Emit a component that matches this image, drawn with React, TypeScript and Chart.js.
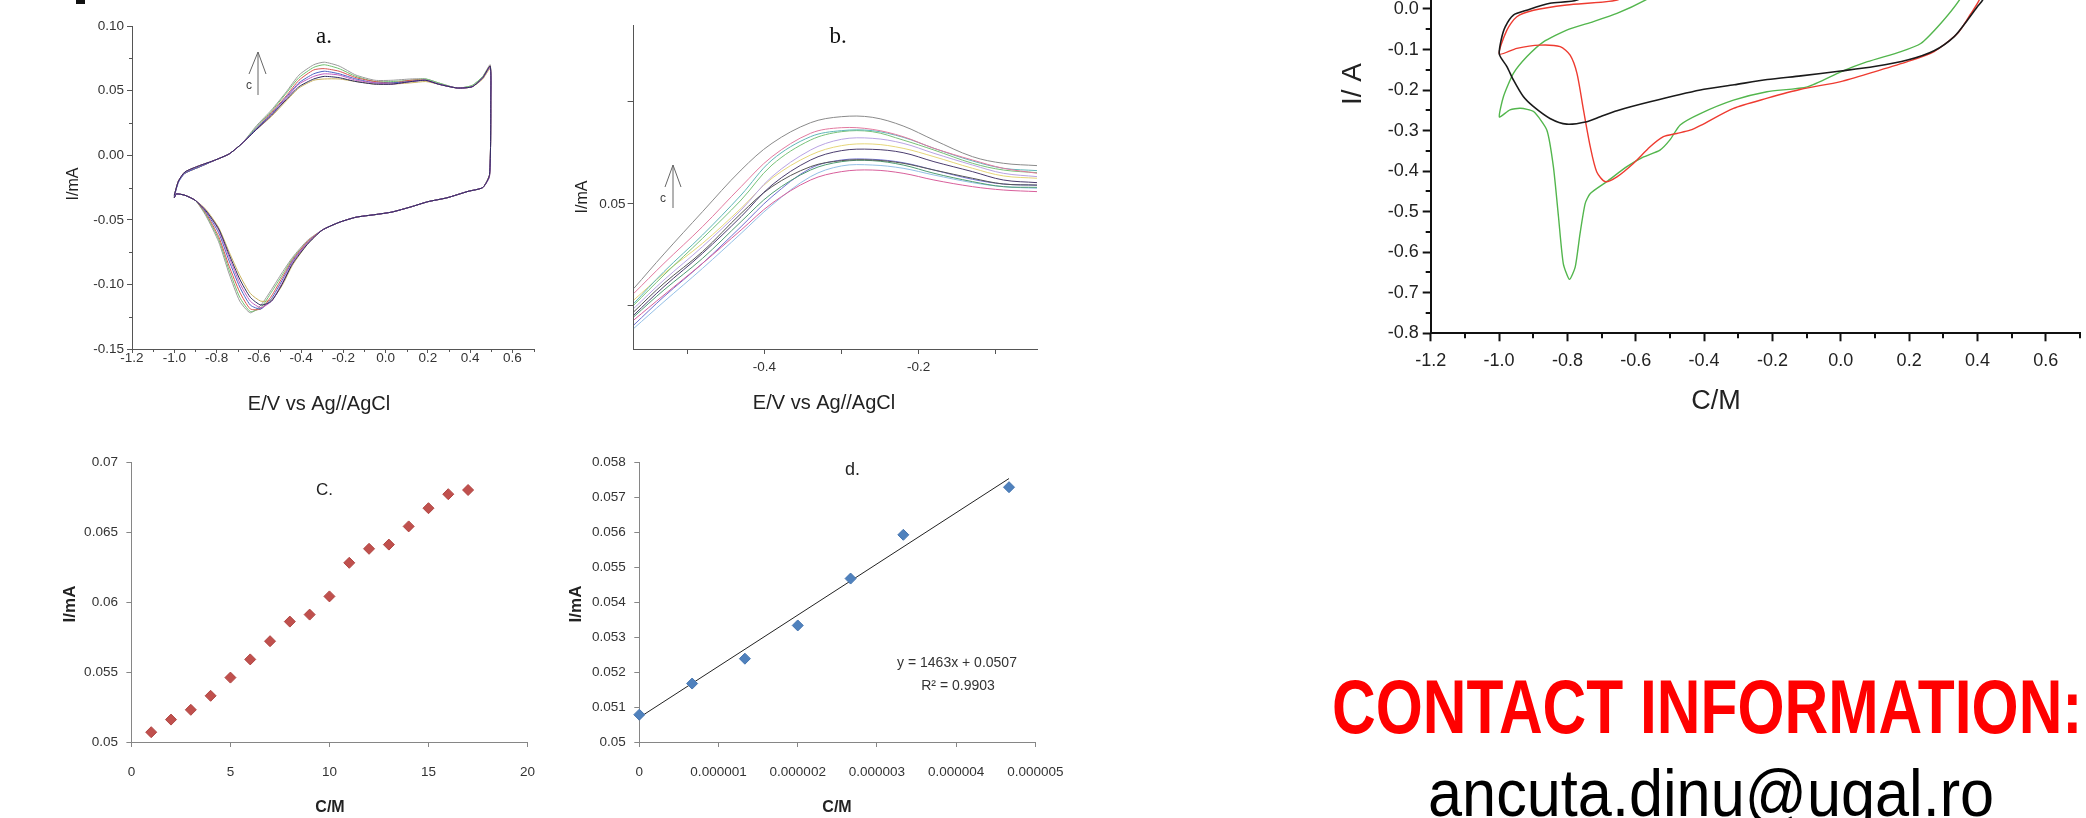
import React, { useEffect, useRef } from 'react';
import { Chart, registerables } from 'chart.js';

Chart.register(...registerables);

const SANS = "'Liberation Sans', Arial, sans-serif";
const SERIF = "'Liberation Serif', 'Times New Roman', serif";

// ---------- Panel a: cyclic voltammograms (E / V, I / mA) ----------
const A_E = [
  -1.0, -0.98, -0.95, -0.88, -0.81, -0.74, -0.68, -0.61, -0.54, -0.47,
  -0.41, -0.34, -0.29, -0.22, -0.14, -0.05, 0.03, 0.12, 0.19, 0.25,
  0.34, 0.41, 0.46, 0.495, 0.498, 0.492,
  0.46, 0.39, 0.29, 0.2, 0.12, 0.03, -0.05, -0.14, -0.22, -0.3,
  -0.37, -0.44, -0.49, -0.54, -0.59, -0.64, -0.69, -0.74, -0.79, -0.85,
  -0.9, -0.95, -0.99, -1.0,
];
const A1 = [
  -0.031, -0.02, -0.014, -0.009, -0.004, 0.001, 0.009, 0.023, 0.035, 0.049,
  0.062, 0.07, 0.072, 0.069, 0.062, 0.058, 0.058, 0.059, 0.059, 0.056,
  0.052, 0.054, 0.061, 0.07, 0.045, -0.015,
  -0.025, -0.028, -0.033, -0.036, -0.04, -0.044, -0.046, -0.048, -0.052, -0.058,
  -0.066, -0.079, -0.091, -0.104, -0.116, -0.122, -0.113, -0.092, -0.067, -0.047,
  -0.035, -0.031, -0.03, -0.033,
];
const A2 = [
  -0.031, -0.02, -0.014, -0.009, -0.004, 0.001, 0.009, 0.022, 0.034, 0.048,
  0.06, 0.068, 0.07, 0.067, 0.061, 0.057, 0.057, 0.058, 0.059, 0.056,
  0.052, 0.054, 0.061, 0.069, 0.045, -0.015,
  -0.025, -0.028, -0.033, -0.036, -0.04, -0.044, -0.046, -0.048, -0.052, -0.058,
  -0.067, -0.08, -0.093, -0.106, -0.118, -0.121, -0.11, -0.089, -0.065, -0.046,
  -0.035, -0.031, -0.03, -0.033,
];
const A3 = [
  -0.032, -0.02, -0.014, -0.009, -0.004, 0.001, 0.009, 0.021, 0.033, 0.046,
  0.058, 0.066, 0.067, 0.065, 0.06, 0.057, 0.056, 0.058, 0.058, 0.055,
  0.052, 0.053, 0.06, 0.069, 0.045, -0.015,
  -0.025, -0.028, -0.033, -0.036, -0.04, -0.044, -0.046, -0.048, -0.052, -0.058,
  -0.067, -0.081, -0.095, -0.109, -0.119, -0.119, -0.106, -0.086, -0.063, -0.045,
  -0.035, -0.031, -0.03, -0.033,
];
const A4 = [
  -0.032, -0.021, -0.014, -0.009, -0.004, 0.001, 0.009, 0.021, 0.032, 0.045,
  0.056, 0.063, 0.065, 0.063, 0.059, 0.056, 0.056, 0.057, 0.058, 0.055,
  0.052, 0.053, 0.06, 0.068, 0.044, -0.016,
  -0.025, -0.028, -0.033, -0.036, -0.04, -0.044, -0.046, -0.048, -0.052, -0.058,
  -0.068, -0.082, -0.097, -0.111, -0.119, -0.116, -0.102, -0.082, -0.06, -0.044,
  -0.035, -0.031, -0.03, -0.033,
];
const A5 = [
  -0.031, -0.02, -0.013, -0.008, -0.004, 0.001, 0.009, 0.02, 0.031, 0.044,
  0.055, 0.061, 0.063, 0.062, 0.058, 0.056, 0.055, 0.057, 0.058, 0.055,
  0.052, 0.053, 0.06, 0.068, 0.044, -0.016,
  -0.025, -0.028, -0.033, -0.036, -0.04, -0.044, -0.046, -0.048, -0.052, -0.058,
  -0.068, -0.083, -0.099, -0.113, -0.118, -0.113, -0.099, -0.079, -0.058, -0.043,
  -0.035, -0.031, -0.03, -0.033,
];
const A6 = [
  -0.031, -0.02, -0.013, -0.008, -0.004, 0.001, 0.009, 0.02, 0.031, 0.043,
  0.053, 0.059, 0.061, 0.06, 0.057, 0.055, 0.055, 0.057, 0.058, 0.055,
  0.052, 0.053, 0.06, 0.069, 0.045, -0.015,
  -0.025, -0.028, -0.033, -0.036, -0.04, -0.044, -0.046, -0.048, -0.052, -0.058,
  -0.069, -0.084, -0.1, -0.113, -0.116, -0.11, -0.096, -0.077, -0.057, -0.043,
  -0.035, -0.031, -0.03, -0.033,
];
const A7 = [
  -0.031, -0.02, -0.013, -0.008, -0.004, 0.001, 0.009, 0.02, 0.03, 0.042,
  0.052, 0.058, 0.059, 0.059, 0.057, 0.055, 0.055, 0.056, 0.057, 0.055,
  0.052, 0.053, 0.059, 0.067, 0.044, -0.016,
  -0.025, -0.028, -0.033, -0.036, -0.04, -0.044, -0.046, -0.048, -0.052, -0.058,
  -0.069, -0.085, -0.101, -0.112, -0.113, -0.107, -0.093, -0.075, -0.056, -0.042,
  -0.035, -0.031, -0.03, -0.033,
];
const A_SERIES = [A6, A5, A4, A3, A2, A7, A1];
const A_COLORS = ['#2b2b5e', '#c05cc0', '#4a62c4', '#d9534f', '#6fbf6f', '#c9b25e', '#9a9a9a'];
const A_XTICKS = [-1.2, -1.0, -0.8, -0.6, -0.4, -0.2, 0.0, 0.2, 0.4, 0.6];
const A_YTICKS = [-0.15, -0.1, -0.05, 0.0, 0.05, 0.1];

// ---------- Panel b: zoom of the anodic peak ----------
const B_E = [-0.569, -0.53, -0.48, -0.43, -0.39, -0.34, -0.3, -0.26, -0.22, -0.18, -0.13, -0.09, -0.046];
const B1 = [0.04173, 0.0451, 0.04925, 0.05333, 0.05595, 0.05797, 0.05856, 0.0585, 0.05765, 0.05627, 0.05464, 0.05399, 0.05376];
const B2 = [0.04124, 0.04418, 0.04778, 0.0517, 0.05464, 0.05693, 0.05748, 0.05732, 0.0566, 0.05546, 0.05431, 0.0535, 0.05301];
const B3 = [0.04026, 0.04337, 0.04696, 0.05088, 0.05431, 0.0566, 0.05719, 0.05719, 0.05654, 0.05546, 0.05422, 0.0535, 0.05327];
const B4 = [0.0401, 0.04304, 0.04663, 0.05039, 0.05382, 0.05627, 0.05709, 0.05709, 0.05627, 0.05529, 0.05399, 0.05333, 0.05307];
const B5 = [0.03977, 0.04255, 0.04582, 0.04941, 0.05268, 0.05529, 0.05634, 0.05644, 0.05595, 0.05497, 0.05382, 0.05301, 0.05268];
const B6 = [0.04059, 0.0432, 0.04614, 0.04958, 0.05252, 0.0548, 0.05572, 0.05588, 0.05546, 0.05464, 0.0535, 0.05275, 0.05252];
const B7 = [0.03912, 0.0419, 0.04516, 0.04876, 0.05186, 0.05431, 0.05523, 0.05536, 0.05503, 0.05415, 0.05317, 0.05235, 0.05209];
const B8 = [0.03944, 0.04222, 0.04533, 0.04908, 0.0517, 0.05366, 0.05425, 0.05431, 0.05399, 0.05333, 0.05252, 0.05196, 0.05186];
const B9 = [0.03895, 0.04157, 0.04467, 0.04827, 0.05105, 0.05333, 0.05415, 0.05425, 0.05382, 0.05301, 0.05219, 0.0517, 0.05163];
const B10 = [0.03863, 0.04108, 0.04418, 0.04745, 0.05007, 0.05235, 0.05317, 0.05333, 0.05301, 0.05235, 0.0517, 0.05137, 0.05121];
const B11 = [0.03781, 0.04042, 0.04369, 0.04712, 0.0499, 0.05268, 0.05373, 0.05382, 0.0535, 0.05284, 0.05209, 0.0517, 0.05154];
const B12 = [0.03814, 0.04092, 0.04418, 0.04778, 0.05072, 0.0535, 0.05431, 0.05438, 0.05405, 0.05333, 0.05242, 0.05196, 0.05183];
const B_SERIES = [B7, B8, B1, B2, B3, B4, B5, B6, B9, B10, B11, B12];
const B_COLORS = ['#4b3d6e', '#555555', '#8a8a8a', '#e27aa0', '#5fb7b7', '#78c278', '#b9a3e3', '#e6d67a', '#4f9d72', '#d85f9b', '#93bfe6', '#7070d0'];
const B_XTICKS = [-0.5, -0.4, -0.3, -0.2, -0.1];
const B_XLABELLED = [-0.4, -0.2];
const B_YTICKS = [0.04, 0.05, 0.06];
const B_YLABELLED = [0.05];

// ---------- Panel c: calibration points ----------
const C_CONC = [1, 2, 3, 4, 5, 6, 7, 8, 9, 10, 11, 12, 13, 14, 15, 16, 17];
const C_CURR = [0.0507, 0.0516, 0.0523, 0.0533, 0.0546, 0.0559, 0.0572, 0.0586, 0.0591, 0.0604, 0.0628, 0.0638, 0.0641, 0.0654, 0.0667, 0.0677, 0.068];
const C_XTICKS = [0, 5, 10, 15, 20];
const C_YTICKS = [0.05, 0.055, 0.06, 0.065, 0.07];

// ---------- Panel d: linear range ----------
const D_CONC = [0, 0.667e-6, 1.333e-6, 2.0e-6, 2.667e-6, 3.333e-6, 4.667e-6];
const D_CURR = [0.05078, 0.05167, 0.05238, 0.05333, 0.05467, 0.05592, 0.05728];
const D_SLOPE = 1463;
const D_INTERCEPT = 0.0507;
const D_EQUATION = 'y = 1463x + 0.0507';
const D_R2 = 'R² = 0.9903';
const D_XTICKS = [0, 1e-6, 2e-6, 3e-6, 4e-6, 5e-6];
const D_YTICKS = [0.05, 0.051, 0.052, 0.053, 0.054, 0.055, 0.056, 0.057, 0.058];

// ---------- Right panel: three voltammograms ----------
const R_BLACK_E = [-0.7, -0.772, -0.851, -0.919, -0.958, -0.982, -0.994, -0.999, -0.977, -0.958, -0.929, -0.899, -0.851, -0.802, -0.743, -0.704, -0.655, -0.558, -0.411, -0.312, -0.215, -0.117, 0.0, 0.098, 0.195, 0.273, 0.332, 0.371, 0.4, 0.415, 0.43];
const R_BLACK_I = [0.06, 0.022, 0.014, -0.003, -0.015, -0.044, -0.077, -0.112, -0.142, -0.175, -0.216, -0.241, -0.27, -0.284, -0.278, -0.266, -0.251, -0.229, -0.2, -0.187, -0.174, -0.165, -0.153, -0.142, -0.126, -0.103, -0.068, -0.027, 0.006, 0.022, 0.06];
const R_RED_E = [-0.6, -0.655, -0.802, -0.899, -0.948, -0.977, -0.999, -0.948, -0.88, -0.821, -0.792, -0.772, -0.753, -0.733, -0.714, -0.689, -0.655, -0.607, -0.558, -0.519, -0.48, -0.441, -0.41, -0.314, -0.215, -0.117, 0.0, 0.098, 0.195, 0.273, 0.342, 0.381, 0.405, 0.42];
const R_RED_I = [0.05, 0.022, 0.01, -0.003, -0.019, -0.052, -0.111, -0.097, -0.089, -0.093, -0.114, -0.159, -0.249, -0.34, -0.402, -0.426, -0.414, -0.381, -0.34, -0.315, -0.307, -0.299, -0.287, -0.245, -0.22, -0.198, -0.179, -0.155, -0.13, -0.105, -0.06, -0.011, 0.022, 0.06];
const R_GREEN_E = [-0.5, -0.572, -0.655, -0.724, -0.802, -0.87, -0.919, -0.958, -0.987, -0.999, -0.968, -0.938, -0.899, -0.86, -0.841, -0.826, -0.812, -0.794, -0.777, -0.763, -0.748, -0.733, -0.685, -0.626, -0.577, -0.529, -0.5, -0.47, -0.411, -0.314, -0.216, -0.098, 0.0, 0.078, 0.176, 0.234, 0.293, 0.347, 0.37];
const R_GREEN_I = [0.06, 0.022, -0.011, -0.031, -0.052, -0.081, -0.118, -0.159, -0.216, -0.266, -0.249, -0.245, -0.253, -0.299, -0.389, -0.513, -0.628, -0.667, -0.636, -0.554, -0.48, -0.455, -0.426, -0.389, -0.365, -0.348, -0.323, -0.286, -0.258, -0.225, -0.204, -0.192, -0.155, -0.13, -0.105, -0.085, -0.035, 0.022, 0.06];
const R_XTICKS = [-1.2, -1.0, -0.8, -0.6, -0.4, -0.2, 0.0, 0.2, 0.4, 0.6];
const R_YTICKS = [-0.8, -0.7, -0.6, -0.5, -0.4, -0.3, -0.2, -0.1, 0.0];

const fmt = (v: number, d: number) => (Math.abs(v) < 1e-9 ? 0 : v).toFixed(d);
const pts = (xs: number[], ys: number[]) => xs.map((x, i) => ({ x, y: ys[i] }));
const inList = (v: number, list: number[]) => list.some((u) => Math.abs(u - v) < 1e-9);
const fixTicks = (list: number[]) => (s: any) => {
  s.ticks = list.map((value) => ({ value }));
};

type Txt = { t: string; x: number; y: number; font: string; color?: string; align?: CanvasTextAlign; base?: CanvasTextBaseline; rot?: boolean };
type Minor = { step: number; every: number; len: number; color: string; width: number };
type Spec = {
  L: number; T: number; W: number; H: number;
  area: [number, number, number, number];
  texts: Txt[];
  segs?: number[][];
  segColor?: string;
  minorX?: Minor;
  minorY?: Minor;
};

function overlay(spec: Spec) {
  return {
    id: 'overlay',
    afterDraw(chart: any) {
      const ctx: CanvasRenderingContext2D = chart.ctx;
      const ca = chart.chartArea;
      ctx.save();
      const drawMinor = (axis: 'x' | 'y', m?: Minor) => {
        if (!m) return;
        const sc = chart.scales[axis];
        const i0 = Math.ceil(sc.min / m.step - 1e-6);
        const i1 = Math.floor(sc.max / m.step + 1e-6);
        ctx.strokeStyle = m.color;
        ctx.lineWidth = m.width;
        ctx.beginPath();
        for (let i = i0; i <= i1; i++) {
          if (i % m.every === 0) continue;
          const p = Math.round(sc.getPixelForValue(i * m.step)) + (m.width % 2 ? 0.5 : 0);
          if (axis === 'x') {
            ctx.moveTo(p, ca.bottom);
            ctx.lineTo(p, ca.bottom + m.len);
          } else {
            ctx.moveTo(ca.left - m.len, p);
            ctx.lineTo(ca.left, p);
          }
        }
        ctx.stroke();
      };
      drawMinor('x', spec.minorX);
      drawMinor('y', spec.minorY);
      ctx.translate(-spec.L, -spec.T);
      if (spec.segs) {
        ctx.strokeStyle = spec.segColor || '#555';
        ctx.lineWidth = 1;
        ctx.beginPath();
        spec.segs.forEach((s) => {
          ctx.moveTo(s[0], s[1]);
          ctx.lineTo(s[2], s[3]);
        });
        ctx.stroke();
      }
      spec.texts.forEach((tx) => {
        ctx.save();
        ctx.font = tx.font;
        ctx.fillStyle = tx.color || '#222';
        ctx.textAlign = tx.align || 'center';
        ctx.textBaseline = tx.base || 'middle';
        ctx.translate(tx.x, tx.y);
        if (tx.rot) ctx.rotate(-Math.PI / 2);
        ctx.fillText(tx.t, 0, 0);
        ctx.restore();
      });
      ctx.restore();
    },
  };
}

function build(canvas: HTMLCanvasElement, spec: Spec, datasets: any[], xs: any, ys: any) {
  const [x0, y0, x1, y1] = spec.area;
  const xScale = {
    type: 'linear',
    ...xs,
    afterFit: (s: any) => {
      s.height = spec.T + spec.H - y1;
      s.paddingLeft = 0;
      s.paddingRight = 0;
    },
  };
  const yScale = {
    type: 'linear',
    ...ys,
    afterFit: (s: any) => {
      s.width = x0 - spec.L;
      s.paddingTop = 0;
      s.paddingBottom = 0;
    },
  };
  return new Chart(canvas, {
    type: 'scatter',
    data: { datasets },
    options: {
      animation: false,
      responsive: false,
      devicePixelRatio: 1,
      events: [],
      layout: { padding: { left: 0, top: y0 - spec.T, right: spec.L + spec.W - x1, bottom: 0 } },
      plugins: { legend: { display: false }, tooltip: { enabled: false } },
      scales: { x: xScale, y: yScale },
    } as any,
    plugins: [overlay(spec) as any],
  });
}

const lineDs = (xsArr: number[], ysArr: number[], color: string, width: number, tension: number) => ({
  data: pts(xsArr, ysArr),
  showLine: true,
  borderColor: color,
  backgroundColor: color,
  borderWidth: width,
  pointRadius: 0,
  tension,
  fill: false,
});

const axisStyle = (color: string, tickLen: number, width: number) => ({
  grid: { drawOnChartArea: false, drawTicks: true, tickLength: tickLen, tickColor: color, tickWidth: width },
  border: { display: true, color, width },
});

const SPEC_A: Spec = {
  L: 0, T: 0, W: 560, H: 420, area: [132, 26, 533.5, 349],
  texts: [
    { t: 'a.', x: 324, y: 43, font: `23px ${SERIF}`, color: '#111', base: 'alphabetic' },
    { t: 'E/V vs Ag//AgCl', x: 319, y: 404, font: `20px ${SANS}` },
    { t: 'I/mA', x: 74, y: 184, font: `16px ${SANS}`, rot: true },
    { t: 'c', x: 249, y: 86, font: `12px ${SANS}`, color: '#444' },
  ],
  segs: [[258, 95, 258, 52], [249, 74, 258, 52], [266, 74, 258, 52]],
  segColor: '#666',
  minorX: { step: 0.1, every: 2, len: 3, color: '#555', width: 1 },
  minorY: { step: 0.025, every: 2, len: 3, color: '#555', width: 1 },
};
const SPEC_B: Spec = {
  L: 560, T: 0, W: 500, H: 420, area: [633.6, 25, 1037, 349],
  texts: [
    { t: 'b.', x: 838, y: 43, font: `23px ${SERIF}`, color: '#111', base: 'alphabetic' },
    { t: 'E/V vs Ag//AgCl', x: 824, y: 403, font: `20px ${SANS}` },
    { t: 'I/mA', x: 583, y: 197, font: `16px ${SANS}`, rot: true },
    { t: 'c', x: 663, y: 199, font: `12px ${SANS}`, color: '#444' },
  ],
  segs: [[673, 208, 673, 165], [665, 187, 673, 165], [681, 187, 673, 165]],
  segColor: '#666',
};
const SPEC_C: Spec = {
  L: 0, T: 420, W: 560, H: 398, area: [131.4, 462, 527.5, 742],
  texts: [
    { t: 'C.', x: 316, y: 495, font: `17px ${SANS}`, align: 'left', base: 'alphabetic' },
    { t: 'C/M', x: 330, y: 808, font: `bold 16px ${SANS}` },
    { t: 'I/mA', x: 70, y: 604, font: `bold 17px ${SANS}`, rot: true },
  ],
};
const SPEC_D: Spec = {
  L: 560, T: 420, W: 560, H: 398, area: [639.3, 462, 1035.4, 742],
  texts: [
    { t: 'd.', x: 845, y: 475, font: `18px ${SANS}`, align: 'left', base: 'alphabetic' },
    { t: 'C/M', x: 837, y: 808, font: `bold 16px ${SANS}` },
    { t: 'I/mA', x: 576, y: 604, font: `bold 17px ${SANS}`, rot: true },
    { t: D_EQUATION, x: 957, y: 663, font: `14px ${SANS}`, color: '#333' },
    { t: D_R2, x: 958, y: 686, font: `14px ${SANS}`, color: '#333' },
  ],
};
const SPEC_R: Spec = {
  L: 1260, T: 0, W: 826, H: 420, area: [1430.7, 0, 2080, 333.3],
  texts: [
    { t: 'I/ A', x: 1353, y: 84, font: `28px ${SANS}`, rot: true },
    { t: 'C/M', x: 1716, y: 402, font: `27px ${SANS}` },
  ],
  minorX: { step: 0.1, every: 2, len: 5, color: '#111', width: 2 },
  minorY: { step: 0.05, every: 2, len: 5, color: '#111', width: 2 },
};

export default function App() {
  const ra = useRef<HTMLCanvasElement>(null);
  const rb = useRef<HTMLCanvasElement>(null);
  const rc = useRef<HTMLCanvasElement>(null);
  const rd = useRef<HTMLCanvasElement>(null);
  const rr = useRef<HTMLCanvasElement>(null);

  useEffect(() => {
    const charts: Chart[] = [];
    const tickFontA = { family: SANS, size: 13.5 };

    charts.push(
      build(
        ra.current!,
        SPEC_A,
        A_SERIES.map((s, i) => lineDs(A_E, s, A_COLORS[i], 1, 0.2)),
        {
          min: -1.2, max: 0.7,
          afterBuildTicks: fixTicks(A_XTICKS),
          ticks: { autoSkip: false, maxRotation: 0, font: tickFontA, color: '#333', padding: -3, callback: (v: number) => fmt(v, 1) },
          ...axisStyle('#555', 4, 1),
        },
        {
          min: -0.15, max: 0.1,
          afterBuildTicks: fixTicks(A_YTICKS),
          ticks: { autoSkip: false, font: tickFontA, color: '#333', padding: 3, callback: (v: number) => fmt(v, 2) },
          ...axisStyle('#555', 5, 1),
        }
      )
    );

    charts.push(
      build(
        rb.current!,
        SPEC_B,
        B_SERIES.map((s, i) => lineDs(B_E, s, B_COLORS[i], 1, 0.35)),
        {
          min: -0.5694, max: -0.0464,
          afterBuildTicks: fixTicks(B_XTICKS),
          ticks: {
            autoSkip: false, maxRotation: 0, font: tickFontA, color: '#333', padding: 5,
            callback: (v: number) => (inList(v, B_XLABELLED) ? fmt(v, 1) : ''),
          },
          ...axisStyle('#555', 5, 1),
        },
        {
          min: 0.03578, max: 0.06755,
          afterBuildTicks: fixTicks(B_YTICKS),
          ticks: {
            autoSkip: false, font: tickFontA, color: '#333', padding: 2,
            callback: (v: number) => (inList(v, B_YLABELLED) ? fmt(v, 2) : ''),
          },
          ...axisStyle('#555', 6, 1),
        }
      )
    );

    const tickFontC = { family: SANS, size: 13.5 };
    charts.push(
      build(
        rc.current!,
        SPEC_C,
        [
          {
            data: pts(C_CONC, C_CURR),
            showLine: false,
            pointStyle: 'rectRot',
            pointRadius: 5.5,
            backgroundColor: '#c0504d',
            borderColor: '#b04542',
            borderWidth: 1,
            clip: false,
          },
        ],
        {
          min: 0, max: 20,
          afterBuildTicks: fixTicks(C_XTICKS),
          ticks: { autoSkip: false, maxRotation: 0, font: tickFontC, color: '#333', padding: 17, callback: (v: number) => String(v) },
          ...axisStyle('#868686', 5, 1),
        },
        {
          min: 0.05, max: 0.07,
          afterBuildTicks: fixTicks(C_YTICKS),
          ticks: { autoSkip: false, font: tickFontC, color: '#333', padding: 8.5, callback: (v: number) => String(parseFloat(v.toFixed(3))) },
          ...axisStyle('#868686', 5, 1),
        }
      )
    );

    const dFirst = D_CONC[0];
    const dLast = D_CONC[D_CONC.length - 1];
    charts.push(
      build(
        rd.current!,
        SPEC_D,
        [
          {
            data: pts(D_CONC, D_CURR),
            showLine: false,
            pointStyle: 'rectRot',
            pointRadius: 5.5,
            backgroundColor: '#4f81bd',
            borderColor: '#4575b0',
            borderWidth: 1,
            clip: false,
          },
          {
            data: [
              { x: dFirst, y: D_SLOPE * dFirst + D_INTERCEPT },
              { x: dLast, y: D_SLOPE * dLast + D_INTERCEPT },
            ],
            showLine: true,
            pointRadius: 0,
            borderColor: '#222',
            borderWidth: 1,
          },
        ],
        {
          min: 0, max: 5e-6,
          afterBuildTicks: fixTicks(D_XTICKS),
          ticks: {
            autoSkip: false, maxRotation: 0, font: tickFontC, color: '#333', padding: 17,
            callback: (v: number) => (Math.abs(v) < 1e-12 ? '0' : v.toFixed(6)),
          },
          ...axisStyle('#868686', 5, 1),
        },
        {
          min: 0.05, max: 0.058,
          afterBuildTicks: fixTicks(D_YTICKS),
          ticks: { autoSkip: false, font: tickFontC, color: '#333', padding: 8.5, callback: (v: number) => String(parseFloat(v.toFixed(3))) },
          ...axisStyle('#868686', 5, 1),
        }
      )
    );

    const tickFontR = { family: SANS, size: 18 };
    charts.push(
      build(
        rr.current!,
        SPEC_R,
        [
          lineDs(R_BLACK_E, R_BLACK_I, '#1a1a1a', 1.6, 0.25),
          lineDs(R_RED_E, R_RED_I, '#ee3b30', 1.4, 0.25),
          lineDs(R_GREEN_E, R_GREEN_I, '#53b64d', 1.4, 0.2),
        ],
        {
          min: -1.2, max: 0.7,
          afterBuildTicks: fixTicks(R_XTICKS),
          ticks: { autoSkip: false, maxRotation: 0, font: tickFontR, color: '#222', padding: 9, callback: (v: number) => fmt(v, 1) },
          ...axisStyle('#111', 8, 2),
        },
        {
          min: -0.8, max: 0.0222,
          afterBuildTicks: fixTicks(R_YTICKS),
          ticks: { autoSkip: false, font: tickFontR, color: '#222', padding: 4, callback: (v: number) => fmt(v, 1) },
          ...axisStyle('#111', 8, 2),
        }
      )
    );

    return () => charts.forEach((c) => c.destroy());
  }, []);

  const cv = (L: number, T: number, W: number, H: number) => ({ position: 'absolute' as const, left: L, top: T, width: W, height: H });

  return (
    <div style={{ position: 'absolute', left: 0, top: 0, width: 2086, height: 818, background: '#fff', overflow: 'hidden' }}>
      <canvas ref={ra} width={560} height={420} style={cv(0, 0, 560, 420)} />
      <canvas ref={rb} width={500} height={420} style={cv(560, 0, 500, 420)} />
      <canvas ref={rc} width={560} height={398} style={cv(0, 420, 560, 398)} />
      <canvas ref={rd} width={560} height={398} style={cv(560, 420, 560, 398)} />
      <canvas ref={rr} width={826} height={420} style={cv(1260, 0, 826, 420)} />
      <div style={{ position: 'absolute', left: 76, top: 0, width: 9, height: 4, background: '#111' }} />
      <div
        style={{
          position: 'absolute', left: 1332, top: 669, fontFamily: SANS, fontWeight: 700, fontSize: 76, lineHeight: '76px',
          color: '#ff0000', whiteSpace: 'nowrap', transform: 'scaleX(0.796)', transformOrigin: '0 0',
        }}
      >
        CONTACT INFORMATION:
      </div>
      <div
        style={{
          position: 'absolute', left: 1428, top: 760, fontFamily: SANS, fontSize: 66, lineHeight: '66px',
          color: '#000', whiteSpace: 'nowrap', transform: 'scaleX(0.928)', transformOrigin: '0 0',
        }}
      >
        ancuta.dinu@ugal.ro
      </div>
    </div>
  );
}
